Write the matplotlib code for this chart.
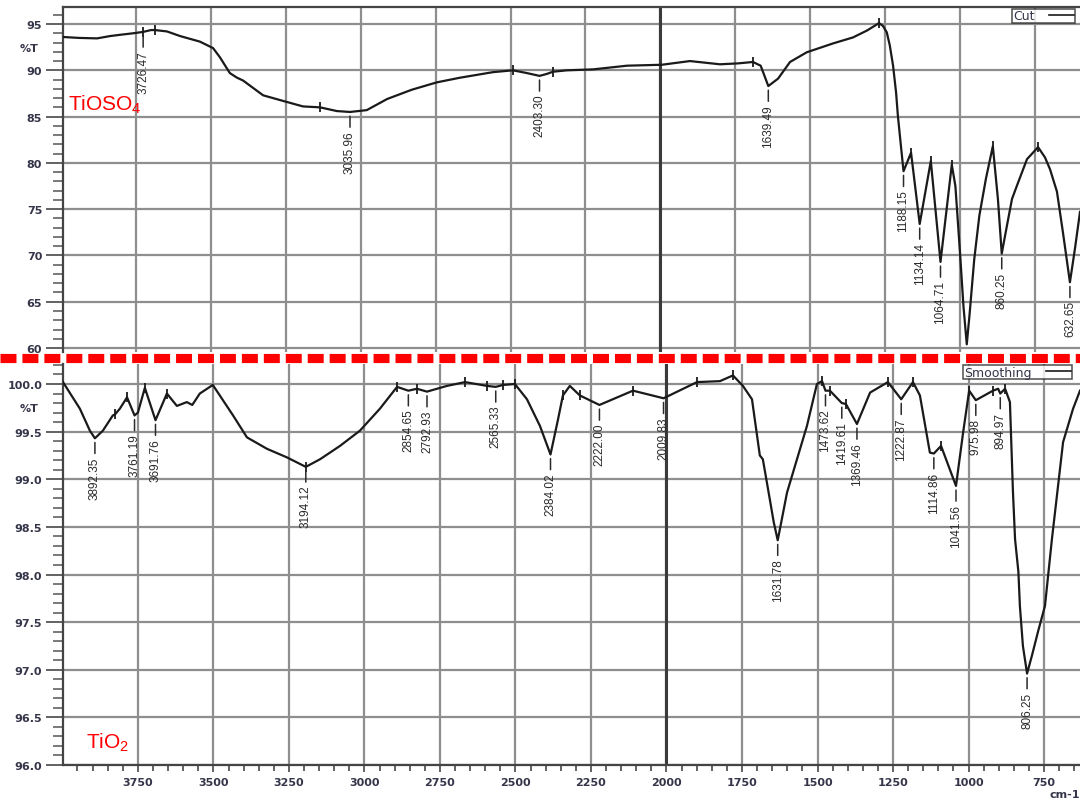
import numpy as np
import matplotlib
matplotlib.use('Agg')
import matplotlib.pyplot as plt
from matplotlib.ticker import MultipleLocator, FormatStrFormatter
from matplotlib.lines import Line2D
from matplotlib import font_manager as fm

# ---------------- data ----------------
# TiOSO4 spectrum (wavenumber cm-1, %T)
top_wn = [3994, 3940, 3880, 3837, 3800, 3760, 3726.47, 3700, 3687, 3647, 3603, 3537,
          3493, 3470, 3437, 3413, 3393, 3326, 3260, 3193, 3136, 3080, 3035.96, 2980, 2912,
          2830, 2746, 2669, 2559, 2492, 2445, 2403.30, 2380, 2358, 2312, 2225, 2111,
          1995, 1901, 1801, 1740, 1691, 1665, 1639.49, 1607, 1567, 1511, 1424, 1357,
          1310, 1270, 1257, 1244, 1234, 1223, 1213, 1207, 1197, 1188.15, 1163, 1134.14,
          1097, 1064.71, 1027, 1015, 1000, 988, 977, 968, 952, 935, 913, 890, 873,
          860.25, 843, 826, 810, 776, 739, 716, 699, 676, 656, 632.65, 616, 599]
top_T = [93.6, 93.5, 93.45, 93.7, 93.85, 94.0, 94.15, 94.35, 94.35, 94.2, 93.7, 93.1,
         92.4, 91.4, 89.7, 89.2, 88.9, 87.3, 86.7, 86.1, 86.0, 85.6, 85.5, 85.7, 86.9,
         87.9, 88.7, 89.2, 89.8, 90.0, 89.7, 89.4, 89.6, 89.85, 90.0, 90.1, 90.5,
         90.6, 91.0, 90.65, 90.75, 90.9, 90.5, 88.3, 89.1, 90.9, 91.95, 92.9, 93.55,
         94.3, 95.1, 94.8, 94.1, 92.7, 90.5, 87.6, 85.1, 81.9, 79.1, 81.1, 73.4,
         80.2, 69.3, 79.8, 77.5, 70.5, 64.5, 60.4, 63.5, 69.6, 74.3, 78.3, 81.8, 76.1,
         70.2, 73.2, 76.1, 77.5, 80.4, 81.7, 80.6, 79.3, 76.9, 72.5, 67.1, 70.7, 74.7]

# TiO2 spectrum (wavenumber cm-1, %T)
bot_wn = [3998, 3942, 3909, 3892.35, 3866, 3833, 3826, 3810, 3786, 3761.19, 3750, 3727,
          3691.76, 3654, 3621, 3588, 3570, 3545, 3502, 3435, 3389, 3323, 3257, 3194.12,
          3147, 3081, 3015, 2949, 2892, 2854.65, 2826, 2792.93, 2727, 2667, 2594,
          2565.33, 2541, 2502, 2462, 2419, 2384.02, 2359, 2343, 2320, 2287, 2222.00,
          2111, 2022, 2009.83, 1899, 1823, 1780, 1747, 1717, 1691, 1681, 1658, 1645,
          1631.78, 1620, 1601, 1568, 1535, 1502, 1485, 1473.62, 1459, 1419.61, 1406,
          1369.46, 1326, 1267, 1222.87, 1184, 1161, 1128, 1114.86, 1091, 1071,
          1041.56, 1018, 998, 975.98, 919, 902, 894.97, 879, 863, 853, 846, 835, 830,
          820, 806.25, 790, 770, 747, 724, 687, 654, 631]
bot_T = [100.02, 99.74, 99.51, 99.43, 99.51, 99.67, 99.68, 99.74, 99.86, 99.67, 99.70, 99.96,
         99.62, 99.90, 99.77, 99.81, 99.78, 99.90, 99.99, 99.67, 99.44, 99.32, 99.23, 99.13,
         99.21, 99.35, 99.51, 99.74, 99.97, 99.93, 99.95, 99.92, 99.98, 100.02, 99.98,
         99.97, 99.99, 100.0, 99.84, 99.56, 99.26, 99.63, 99.88, 99.98, 99.88, 99.78,
         99.93, 99.86, 99.85, 100.02, 100.03, 100.09, 99.98, 99.84, 99.25, 99.21, 98.79, 98.55,
         98.36, 98.55, 98.86, 99.21, 99.56, 100.0, 100.03, 99.93, 99.93, 99.80, 99.79,
         99.58, 99.91, 100.02, 99.84, 100.02, 99.88, 99.28, 99.27, 99.35, 99.18,
         98.93, 99.49, 99.93, 99.83, 99.93, 99.95, 99.90, 99.95, 99.81, 98.87, 98.37, 98.03,
         97.67, 97.25, 96.96, 97.15, 97.40, 97.67, 98.37, 99.39, 99.74, 99.93]

top_peaks = [3726.47, 3035.96, 2403.30, 1639.49, 1188.15, 1134.14, 1064.71, 860.25, 632.65]
top_peak_labels = ['3726.47', '3035.96', '2403.30', '1639.49', '1188.15', '1134.14',
                   '1064.71', '860.25', '632.65']
bot_peaks = [3892.35, 3761.19, 3691.76, 3194.12, 2854.65, 2792.93, 2565.33, 2384.02,
             2222.00, 2009.83, 1631.78, 1473.62, 1419.61, 1369.46, 1222.87, 1114.86,
             1041.56, 975.98, 894.97, 806.25]
bot_peak_labels = ['3892.35', '3761.19', '3691.76', '3194.12', '2854.65', '2792.93',
                   '2565.33', '2384.02', '2222.00', '2009.83', '1631.78', '1473.62',
                   '1419.61', '1369.46', '1222.87', '1114.86', '1041.56', '975.98',
                   '894.97', '806.25']

# peak-pick cross marks on the curves
top_marks = [3726.47, 3687, 3136, 2492, 2358, 1691, 1270, 1163, 1097, 1027, 890, 739]
bot_marks = [3826, 3786, 3727, 3654, 3194.12, 2892, 2826, 2667, 2594, 2541, 2502, 2343,
             2287, 2111, 1899, 1780, 1485, 1459, 1406, 1267, 1184, 1091, 998, 919, 879]

top_title = 'TiOSO$_\\mathregular{4}$'
bot_title = 'TiO$_\\mathregular{2}$'
top_legend = 'Cut'
bot_legend = 'Smoothing'

# ---------------- style ----------------
plt.rcParams['lines.scale_dashes'] = False
avail = {f.name for f in fm.fontManager.ttflist}
NARROW = 'Liberation Sans Narrow' if 'Liberation Sans Narrow' in avail else 'Liberation Sans'
narrow_ok = NARROW == 'Liberation Sans Narrow'

W, H = 1080, 803
fig = plt.figure(figsize=(W / 100, H / 100), dpi=100)


def px_axes(left, top, right, bottom):
    return [left / W, 1 - bottom / H, (right - left) / W, (bottom - top) / H]


ax1 = fig.add_axes(px_axes(63, 8, 1080, 353))
ax2 = fig.add_axes(px_axes(63, 365, 1080, 766))

GRID = '#8e8e8e'
LAB = '#35354a'


def style(ax, xlim, ylim, major, minor, fmt):
    ax.set_xlim(*xlim)
    ax.set_ylim(*ylim)
    ax.set_axisbelow(True)
    ax.xaxis.set_major_locator(MultipleLocator(250))
    ax.xaxis.set_minor_locator(MultipleLocator(50))
    ax.yaxis.set_major_locator(MultipleLocator(major))
    ax.yaxis.set_minor_locator(MultipleLocator(minor))
    ax.yaxis.set_major_formatter(FormatStrFormatter(fmt))
    ax.grid(True, which='major', color=GRID, lw=1.6)
    ax.axvline(2000, color='#3a3a3a', lw=2.2, zorder=1.6)
    ax.tick_params(axis='y', which='major', direction='out', length=12, width=1.3,
                   color='#555555', labelsize=8, labelcolor=LAB, pad=3)
    ax.tick_params(axis='y', which='minor', direction='out', length=7, width=1.1,
                   color='#555555')
    ax.spines['right'].set_visible(False)
    for s in ax.spines.values():
        s.set_linewidth(1.6)
        s.set_color('#444444')


style(ax1, (3994, 599), (59.57, 96.84), 5, 1, '%d')
style(ax2, (3998, 631), (96.0, 100.21), 0.5, 0.1, '%.1f')

ax1.spines['bottom'].set_visible(False)
ax1.tick_params(axis='x', which='both', bottom=False, labelbottom=False)
ax2.spines['top'].set_visible(False)
ax2.tick_params(axis='x', which='major', direction='out', length=5, width=1.3,
                color='#555555', labelsize=8, labelcolor=LAB, pad=4)
ax2.tick_params(axis='x', which='minor', direction='out', length=4, width=1.3,
                color='#555555')

for ax in (ax1, ax2):
    plt.setp(ax.get_yticklabels(), fontweight='bold')
plt.setp(ax2.get_xticklabels(), fontweight='bold')

# curves
ax1.plot(top_wn, top_T, color='#1a1a1a', lw=1.6, label=top_legend, zorder=3)
ax2.plot(bot_wn, bot_T, color='#1a1a1a', lw=1.6, label=bot_legend, zorder=3)


def curve_at(x, wn, T):
    return np.interp(x, np.asarray(wn)[::-1], np.asarray(T)[::-1])


ax1.plot(top_marks, curve_at(top_marks, top_wn, top_T), ls='none', marker='|',
         ms=7, mew=1.3, color='#1a1a1a', zorder=4)
ax2.plot(bot_marks, curve_at(bot_marks, bot_wn, bot_T), ls='none', marker='|',
         ms=7, mew=1.3, color='#1a1a1a', zorder=4)

# peak labels
pk_family = NARROW
pk_size = 10 if narrow_ok else 8.5


def label_peaks(ax, peaks, labels, wn, T):
    for x, lab in zip(peaks, labels):
        y = curve_at(x, wn, T)
        ax.annotate(lab, xy=(x, y), xytext=(0, -18), textcoords='offset pixels',
                    rotation=90, ha='center', va='top', fontsize=pk_size,
                    family=pk_family, color='#2a2a2a', zorder=5,
                    arrowprops=dict(arrowstyle='-', color='#2a2a2a', lw=1.1,
                                    shrinkA=0, shrinkB=3, relpos=(0.5, 1.0)))


label_peaks(ax1, top_peaks, top_peak_labels, top_wn, top_T)
label_peaks(ax2, bot_peaks, bot_peak_labels, bot_wn, bot_T)

# legends
for ax, anchor in ((ax1, (0.995, 0.995)), (ax2, (0.992, 0.997))):
    leg = ax.legend(loc='upper right', bbox_to_anchor=anchor, markerfirst=False,
                    fontsize=9, frameon=True, fancybox=False, borderpad=0.05,
                    handlelength=2.0, handletextpad=1.2, borderaxespad=0.0)
    leg.get_frame().set_edgecolor('#222222')
    leg.get_frame().set_linewidth(1.1)
    for t in leg.get_texts():
        t.set_color(LAB)
    for l in leg.get_lines():
        l.set_linewidth(1.2)

# axis captions
for ypx in (49, 409):
    fig.text(29 / W, 1 - ypx / H, '%T', ha='center', va='center', fontsize=8,
             fontweight='bold', color=LAB)
fig.text(1050 / W, 1 - 795 / H, 'cm-1', ha='left', va='center', fontsize=8,
         fontweight='bold', color=LAB)

# sample names
name_size = 17 if narrow_ok else 15
fig.text(68 / W, 1 - 110 / H, top_title, ha='left', va='baseline', color='#ff0000',
         fontsize=name_size, family=NARROW)
fig.text(86 / W, 1 - 748 / H, bot_title, ha='left', va='baseline', color='#ff0000',
         fontsize=name_size, family=NARROW)

# red dashed separator
ysep = 1 - 358.5 / H
fig.add_artist(Line2D([0, 1], [ysep, ysep], transform=fig.transFigure, color='#ff0000',
                      lw=6.6, dashes=(11.5, 4.3), dash_capstyle='butt', zorder=10))

fig.savefig('out.png', dpi=100)
